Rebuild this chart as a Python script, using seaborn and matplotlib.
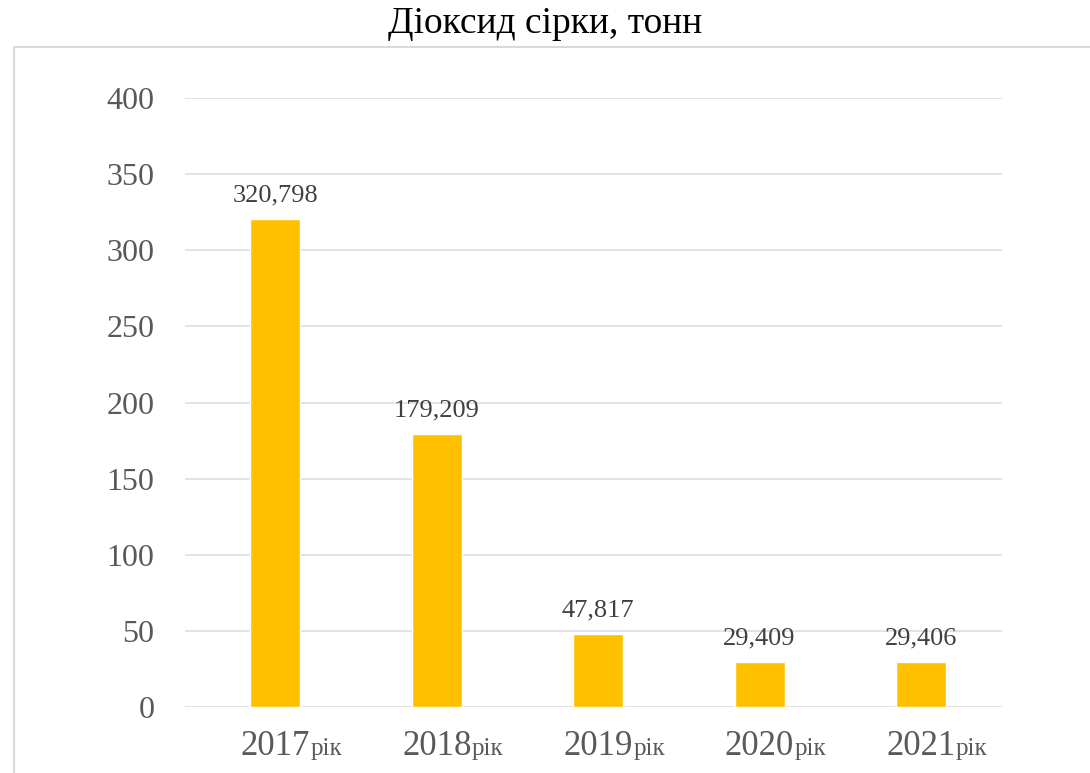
import matplotlib
matplotlib.use("Agg")
import matplotlib.pyplot as plt
import matplotlib.transforms as mtransforms
from matplotlib.patches import Rectangle
import seaborn as sns
import pandas as pd

# Sulphur dioxide emissions by year
years = ["2017", "2018", "2019", "2020", "2021"]
year_suffix = "рік"
values = [320.798, 179.209, 47.817, 29.409, 29.406]
y_ticks = [0, 50, 100, 150, 200, 250, 300, 350, 400]
title = "Діоксид сірки, тонн"

sns.set_theme(style="white")
plt.rcParams["font.family"] = ["Liberation Serif", "DejaVu Serif"]

df = pd.DataFrame({"year": years, "value": values})

fig = plt.figure(figsize=(10.9, 7.73), dpi=100)
fig.patch.set_facecolor("white")

# Light frame around the chart area
fig.add_artist(Rectangle((14 / 1090, -0.1), 1.2, 1.1 - 47 / 773,
                         transform=fig.transFigure, fill=False,
                         edgecolor="#d9d9d9", linewidth=1.5))

ax = fig.add_axes([0.1697, 0.0854, 0.919 - 0.1697, 0.873 - 0.0854])
sns.barplot(data=df, x="year", y="value", color="#FFC000", width=0.31,
            saturation=1, ax=ax)

ax.set_ylim(0, 400)
ax.set_xlim(-0.56, 4.5)
ax.set_yticks(y_ticks)
ax.set_yticklabels([str(t) for t in y_ticks])
ax.yaxis.grid(True, color="#dedede", linewidth=1.2)
ax.set_axisbelow(True)
for s in ax.spines.values():
    s.set_visible(False)
ax.tick_params(axis="y", length=0, pad=22, labelsize=23, labelcolor="#595959")
ax.tick_params(axis="x", length=0)
ax.set_xticklabels([""] * len(years))
ax.set_xlabel("")
ax.set_ylabel("")

# Value labels above bars (decimal comma)
labels = [f"{v:.3f}".replace(".", ",") for v in values]
ax.bar_label(ax.containers[0], labels=labels, padding=9, fontsize=19,
             color="#404040")

# Category labels: year plus smaller suffix
base = mtransforms.blended_transform_factory(ax.transData, fig.transFigure)
for i, yr in enumerate(years):
    ax.text(i, 18 / 773, yr, transform=base, ha="center", va="baseline",
            fontsize=25, color="#595959", clip_on=False)
    off = mtransforms.offset_copy(base, fig=fig, x=35, y=0, units="dots")
    ax.text(i, 18 / 773, year_suffix, transform=off, ha="left",
            va="baseline", fontsize=18, color="#595959", clip_on=False)

fig.text(0.5, 1 - 24 / 773, title, ha="center", va="center", fontsize=27,
         color="black")

fig.savefig("out.png", dpi=100)
